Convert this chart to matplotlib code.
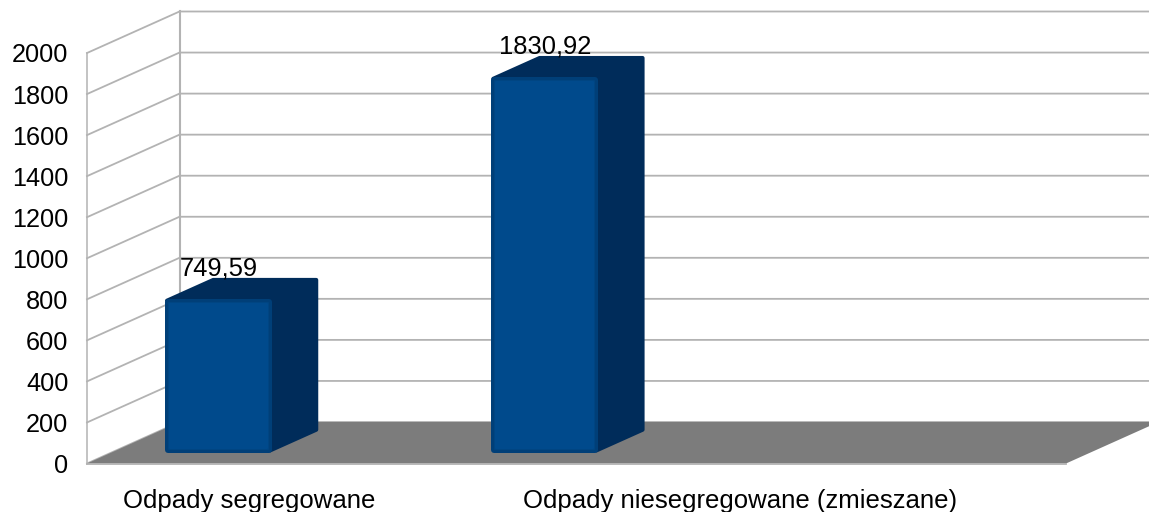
import numpy as np
import matplotlib
matplotlib.use('Agg')
import matplotlib.pyplot as plt
from matplotlib.patches import Polygon

plt.rcParams['font.family'] = ['Liberation Sans', 'DejaVu Sans']

categories = ['Odpady segregowane', 'Odpady niesegregowane (zmieszane)']
values = [749.59, 1830.92]
value_labels = ['749,59', '1830,92']
y_ticks = list(range(0, 2001, 200))

W, H = 1149, 512
# front plane of the 3d box, in pixels
left, right, bottom, top = 87, 1066, 463.5, 53
cat_px = (right - left) / 3
d_front, d_back = 0.265, 0.765
# px position of x=0 on the front plane, bars get pushed right by the depth
zero_px = 218.5 - d_front * 92.5

fig = plt.figure(figsize=(W / 100, H / 100), dpi=100)
ax = fig.add_axes([left / W, 1 - bottom / H, (right - left) / W, (bottom - top) / H])
x0 = (left - zero_px) / cat_px
x1 = (right - zero_px) / cat_px
ax.set_xlim(x0, x1)
ax.set_ylim(0, 2000)
for s in ax.spines.values():
    s.set_visible(False)

# size of one pixel in data units
px = 1 / cat_px
py = 2000 / (bottom - top)
# depth of the box in data units
dx = 92.5 * px
dy = 41.5 * py


def proj(x, v, d):
    return x + d * dx, v + d * dy


def lw_px(n):
    return n * 0.72


grid = '#b3b3b3'
# walls
for v in y_ticks:
    xa, ya = proj(x0, v, 0)
    xb, yb = proj(x0, v, 1)
    xc, yc = proj(x1, v, 1)
    ax.plot([xa, xb, xc], [ya, yb, yc], color=grid, lw=1.3, clip_on=False, zorder=1)
xa, ya = proj(x0, 0, 0)
xb, yb = proj(x0, 2000, 0)
ax.plot([xa, xb], [ya, yb], color=grid, lw=1.1, clip_on=False, zorder=1)
xa, ya = proj(x0, 0, 1)
xb, yb = proj(x0, 2000, 1)
ax.plot([xa, xb], [ya, yb], color=grid, lw=1.5, clip_on=False, zorder=1)

# floor
floor = [proj(x0, 0, 0), proj(x1, 0, 0), proj(x1, 0, 1), proj(x0, 0, 1)]
ax.add_patch(Polygon(floor, closed=True, fc='#7c7c7c', ec='none', clip_on=False, zorder=2))
ax.plot([x0, x1], [0, 0], color=grid, lw=1.3, clip_on=False, zorder=2)

# bars
bar_w = 107 * px
front_c = '#004a8c'
side_c = '#002c5a'


def front_poly(xl, xr, v, r):
    a = proj(xl, 0, d_front)
    b = proj(xr, v, d_front)
    return [(a[0] + r * px, a[1] + r * py), (b[0] - r * px, a[1] + r * py),
            (b[0] - r * px, b[1] - r * py), (a[0] + r * px, b[1] - r * py)]


for i, v in enumerate(values):
    xl, xr = i - bar_w / 2, i + bar_w / 2
    r = 2
    # outline of side and top together
    p1 = proj(xl, v, d_front)
    p2 = proj(xl, v, d_back)
    p3 = proj(xr, v, d_back)
    p4 = proj(xr, 0, d_back)
    p5 = proj(xr, 0, d_front)
    back = [(p1[0] + r * px, p1[1] - r * py), (p2[0] + r * px, p2[1] - r * py),
            (p3[0] - r * px, p3[1] - r * py), (p4[0] - r * px, p4[1] + r * py),
            (p5[0] - r * px, p5[1] + r * py)]
    ax.add_patch(Polygon(back, closed=True, fc=side_c, ec=side_c, lw=lw_px(2 * r),
                         joinstyle='round', clip_on=False, zorder=3))
    # front face, a bit darker at the rim
    for rim, col, z in [(3, '#003f78', 4), (4, '#004582', 5), (5, front_c, 6)]:
        ax.add_patch(Polygon(front_poly(xl, xr, v, rim), closed=True, fc=col, ec=col,
                             lw=lw_px(6 if rim == 3 else 2), joinstyle='round',
                             clip_on=False, zorder=z))
    ax.annotate(value_labels[i], proj(i, v, d_front), xytext=(0, 23), textcoords='offset pixels',
                ha='center', va='baseline', fontsize=18.4, color='black', zorder=7,
                annotation_clip=False)

ax.set_yticks(y_ticks)
ax.set_yticklabels([str(v) for v in y_ticks])
ax.tick_params(axis='y', length=0, pad=13.4, labelsize=18.2, colors='black')
ax.set_xticks([(249 - zero_px) / cat_px, (740 - zero_px) / cat_px])
ax.set_xticklabels(categories)
ax.tick_params(axis='x', length=0, pad=18.2, labelsize=18.5, colors='black')

fig.savefig('out.png', dpi=100)
